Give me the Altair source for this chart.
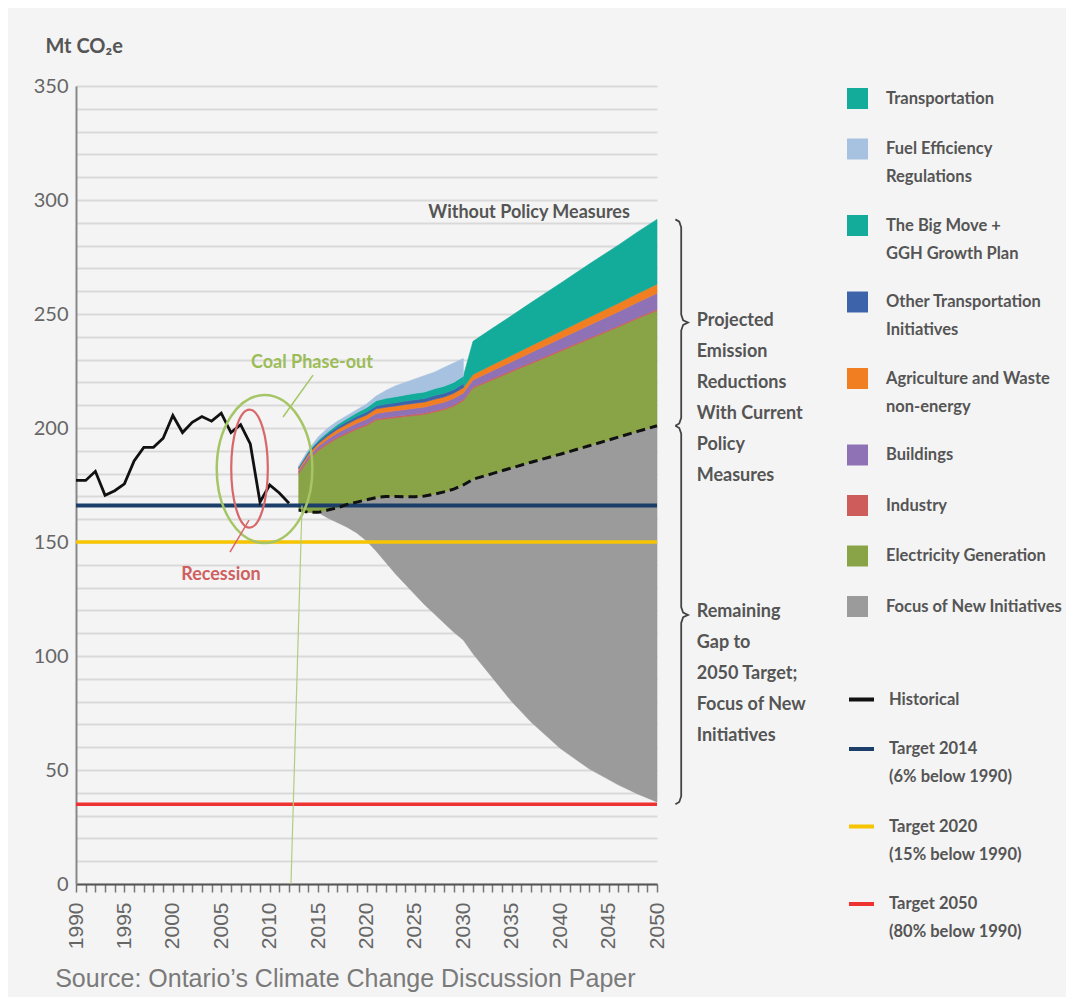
import altair as alt
import pandas as pd

FONT = "Lato, Roboto, sans-serif"
AXIS_FONT = "Liberation Sans, Arial, sans-serif"
TEXT_GRAY = "#555555"

# ---------------- data ----------------
HIST_YEARS = list(range(1990, 2013))
HIST_VALUES = [177, 177, 181, 170.5, 172.5, 175.5, 185.5, 191.5, 191.5, 195.5,
               205.5, 198, 202.5, 205, 203, 206.5, 198, 201.5, 193, 167.5,
               175, 171.5, 167]

TARGET_NAMES = ["Target 2014|(6% below 1990)", "Target 2020|(15% below 1990)",
                "Target 2050|(80% below 1990)"]
TARGET_VALUES = [166, 150, 35]
TARGET_SPAN = [1990, 2050]

PROJ_YEARS = [2013, 2014, 2015, 2016, 2017, 2018, 2019, 2020, 2021, 2022,
              2023, 2024, 2025, 2026, 2027, 2028, 2029, 2030, 2031,
              2033, 2035, 2037, 2040, 2043, 2046, 2048, 2050]
GAP_BOTTOM = [164, 163, 163, 160.5, 158.5, 156.5, 154, 150.5, 146, 141,
              136, 131.5, 127, 122.5, 118.5, 114.5, 110.5, 107, 101,
              90.5, 80, 71, 59.5, 50.5, 43.5, 39.5, 36]
CURRENT_POLICY = [164, 163, 163, 164, 165, 166.5, 167.5, 168.5, 169.5, 170,
                  170, 169.8, 169.8, 170.2, 171, 172, 173.2, 175, 177.5,
                  180, 182.5, 185, 188.5, 192.2, 196, 198.5, 201]
ELECTRICITY = [16, 23, 27, 29, 30.5, 31, 32, 32.5, 34, 34,
               34.5, 35.2, 35.7, 35.8, 36, 36, 36.3, 37, 40,
               41.1, 42.2, 43.2, 45.1, 46.8, 48.3, 49.5, 50.5]
INDUSTRY = [0.6, 0.6, 0.6, 0.6, 0.6, 0.6, 0.6, 0.6, 0.6, 0.6,
            0.6, 0.6, 0.6, 0.6, 0.6, 0.6, 0.6, 0.6, 0.6,
            0.6, 0.6, 0.6, 0.6, 0.6, 0.6, 0.6, 0.6]
BUILDINGS = [0.8, 1, 1.3, 1.5, 1.7, 1.9, 2, 2.2, 2.3, 2.4,
             2.5, 2.5, 2.6, 2.6, 2.7, 2.7, 2.8, 2.8, 3,
             3.4, 3.8, 4.3, 4.9, 5.5, 6.1, 6.5, 7]
AGRICULTURE = [0.8, 1, 1.2, 1.4, 1.6, 1.7, 1.8, 1.9, 2, 2.1,
               2.1, 2.2, 2.2, 2.2, 2.3, 2.3, 2.3, 2.3, 2.4,
               2.6, 2.8, 3, 3.2, 3.5, 3.7, 3.9, 4]
OTHER_TRANSPORT = [0.6, 0.8, 0.9, 1, 1.1, 1.2, 1.2, 1.3, 1.3, 1.4,
                   1.4, 1.5, 1.5, 1.5, 1.6, 1.6, 1.6, 1.7, None,
                   None, None, None, None, None, None, None, None]
BIG_MOVE = [0.2, 0.4, 0.6, 0.8, 1, 1.3, 1.6, 1.9, 2.3, 2.5,
            2.6, 2.7, 2.8, 2.9, 3, 3.1, 3.2, 3.3, None,
            None, None, None, None, None, None, None, None]
FUEL_EFFICIENCY = [0.5, 0.7, 1.4, 1.7, 1.5, 1.3, 1.3, 1.6, 2.0, 3.5,
                   4.8, 5.5, 6.3, 7.2, 7.3, 8.2, 8.5, 7.8, None,
                   None, None, None, None, None, None, None, None]
TRANSPORTATION = [None, None, None, None, None, None, None, None, None, None,
                  None, None, None, None, None, None, None, 5, 14.5,
                  16, 17.4, 18.9, 21.1, 23.3, 25.5, 27, 28.4]

AREA_NAMES = ["Transportation", "Fuel Efficiency|Regulations",
              "The Big Move +|GGH Growth Plan", "Other Transportation|Initiatives",
              "Agriculture and Waste|non-energy", "Buildings", "Industry",
              "Electricity Generation", "Focus of New Initiatives"]
AREA_COLORS = ["#13ab9a", "#a7c2e1", "#13ab9a", "#3d63ab", "#f27e22",
               "#8f71b6", "#cd5c5a", "#89a347", "#9b9b9b"]
LINE_NAMES = ["Historical"] + TARGET_NAMES
LINE_COLORS = ["#111111", "#1b3f68", "#f7c400", "#ee3131"]

BRACE_SPANS = [(291.5, 201), (201, 35)]

# ---------------- tables ----------------
rows = []
for i, yr in enumerate(PROJ_YEARS):
    base = CURRENT_POLICY[i]
    rows.append(dict(series="Focus of New Initiatives", year=yr, lo=GAP_BOTTOM[i], hi=base))
    for name, vals in [("Electricity Generation", ELECTRICITY), ("Industry", INDUSTRY),
                       ("Buildings", BUILDINGS), ("Agriculture and Waste|non-energy", AGRICULTURE)]:
        rows.append(dict(series=name, year=yr, lo=base, hi=base + vals[i]))
        base += vals[i]
    if TRANSPORTATION[i] is not None:
        rows.append(dict(series="Transportation", year=yr, lo=base, hi=base + TRANSPORTATION[i]))
    for name, vals in [("Other Transportation|Initiatives", OTHER_TRANSPORT),
                       ("The Big Move +|GGH Growth Plan", BIG_MOVE),
                       ("Fuel Efficiency|Regulations", FUEL_EFFICIENCY)]:
        if vals[i] is not None:
            rows.append(dict(series=name, year=yr, lo=base, hi=base + vals[i]))
            base += vals[i]
areas = pd.DataFrame(rows)

line_rows = [dict(line="Historical", year=y, value=v) for y, v in zip(HIST_YEARS, HIST_VALUES)]
for name, v in zip(TARGET_NAMES, TARGET_VALUES):
    for y in TARGET_SPAN:
        line_rows.append(dict(line=name, year=y, value=v))
lines = pd.DataFrame(line_rows)

dashed = pd.DataFrame({"year": PROJ_YEARS, "value": CURRENT_POLICY})

# ---------------- scales / axes ----------------
XS = alt.Scale(domain=[1990, 2050], nice=False, zero=False)
YS = alt.Scale(domain=[0, 350], nice=False, zero=True)
XAXIS = alt.Axis(values=list(range(1990, 2051)), format="d", grid=False,
                 labelExpr="datum.value % 5 === 0 ? datum.label : ''",
                 labelOverlap=False, labelAngle=270, labelFont=AXIS_FONT,
                 labelFontSize=21, labelColor="#666666", labelPadding=10,
                 tickSize=8, tickWidth=1.5, tickColor="#777777",
                 domainColor="#555555", domainWidth=2, title=None)
YAXIS = alt.Axis(values=list(range(0, 351, 10)), grid=True, gridColor="#d9d9d9",
                 gridWidth=2, ticks=False,
                 labelExpr="datum.value % 50 === 0 ? datum.label : ''",
                 labelOverlap=False, labelFont=FONT, labelFontSize=20,
                 labelColor="#666666", labelPadding=8,
                 domainColor="#888888", domainWidth=2,
                 title="Mt CO\u2082e", titleAngle=0, titleAlign="left",
                 titleBaseline="alphabetic", titleX=-31, titleY=-34,
                 titleFont=FONT, titleFontSize=20, titleFontWeight="bold",
                 titleColor="#555555")


def xq(field):
    return alt.X(field, type="quantitative", scale=XS, axis=XAXIS)


def yq(field):
    return alt.Y(field, type="quantitative", scale=YS, axis=YAXIS)


FILL = alt.Fill("series:N", scale=alt.Scale(domain=AREA_NAMES, range=AREA_COLORS),
                legend=alt.Legend(title=None, orient="none", legendX=771, legendY=2,
                                  symbolType="square", symbolSize=440,
                                  symbolStrokeWidth=0, labelExpr="split(datum.label, '|')",
                                  labelFont=FONT, labelFontSize=16.5, labelFontWeight="bold",
                                  labelColor=TEXT_GRAY, labelLimit=300, labelOffset=18,
                                  rowPadding=29.5, padding=0))
STROKE = alt.Stroke("line:N", scale=alt.Scale(domain=LINE_NAMES, range=LINE_COLORS),
                    legend=alt.Legend(title=None, orient="none", legendX=771, legendY=599,
                                      symbolType="stroke", symbolSize=625,
                                      symbolStrokeWidth=4, labelExpr="split(datum.label, '|')",
                                      labelFont=FONT, labelFontSize=16.5, labelFontWeight="bold",
                                      labelColor=TEXT_GRAY, labelLimit=300, labelOffset=13,
                                      rowPadding=26.5, padding=0))

layers = []
draw_order = ["Focus of New Initiatives", "Electricity Generation", "Industry", "Buildings",
              "Agriculture and Waste|non-energy", "Transportation",
              "Other Transportation|Initiatives", "The Big Move +|GGH Growth Plan",
              "Fuel Efficiency|Regulations"]
for s in draw_order:
    col = AREA_COLORS[AREA_NAMES.index(s)]
    layers.append(
        alt.Chart(areas[areas.series == s]).mark_area(opacity=1, stroke=col, strokeWidth=0.6)
        .encode(x=xq("year"), y=yq("lo"), y2="hi", fill=FILL)
    )

for name, w in zip(LINE_NAMES[::-1], [3.5, 3.5, 4, 2.8]):
    layers.append(
        alt.Chart(lines[lines.line == name]).mark_line(strokeWidth=w)
        .encode(x=xq("year"), y=yq("value"), stroke=STROKE)
    )

layers.append(
    alt.Chart(dashed).mark_line(color="#111111", strokeWidth=3, strokeDash=[9, 5])
    .encode(x=xq("year"), y=yq("value"))
)

# annotations: ellipses
ell = pd.DataFrame({"year": [2009.47], "value": [182.0]})
layers.append(alt.Chart(ell).mark_point(
    shape="M -0.646 0 A 0.646 1 0 1 1 0.646 0 A 0.646 1 0 1 1 -0.646 0 Z",
    filled=False, size=21904, stroke="#a5c566", strokeWidth=2.5, opacity=1)
    .encode(x=xq("year"), y=yq("value")))
ell2 = pd.DataFrame({"year": [2007.92], "value": [182.2]})
layers.append(alt.Chart(ell2).mark_point(
    shape="M -0.31 0 A 0.31 1 0 1 1 0.31 0 A 0.31 1 0 1 1 -0.31 0 Z",
    filled=False, size=13924, stroke="#d8676a", strokeWidth=2.2, opacity=1)
    .encode(x=xq("year"), y=yq("value")))

# leader lines
leaders = pd.DataFrame({
    "x1": [2014.48, 2007.87, 2013.34], "x2": [2011.38, 2005.9, 2012.2],
    "y1": [223.2, 159.6, 166.0], "y2": [204.8, 145.6, 0],
    "c": ["#a5c566", "#d8676a", "#b3cc80"], "w": [1.5, 1.5, 1.2]})
for i in range(len(leaders)):
    layers.append(alt.Chart(leaders.iloc[[i]]).mark_rule(
        color=leaders.c[i], strokeWidth=float(leaders.w[i]))
        .encode(x=xq("x1"), x2="x2", y=yq("y1"), y2="y2"))

# texts
LABELS = pd.DataFrame({
    "year": [2014.37, 2004.97], "value": [228.5, 135.5],
    "text": ["Coal Phase-out", "Recession"], "c": ["#9cbc58", "#d0605f"]})
for i in range(2):
    layers.append(alt.Chart(LABELS.iloc[[i]]).mark_text(
        font=FONT, fontSize=18, fontWeight="bold", color=LABELS.c[i],
        align="center", baseline="middle")
        .encode(x=xq("year"), y=yq("value"), text="text:N"))

layers.append(alt.Chart(pd.DataFrame({"year": [2047.2], "value": [294.3],
                                      "text": ["Without Policy Measures"]}))
              .mark_text(font=FONT, fontSize=18, fontWeight="bold", color=TEXT_GRAY,
                         align="right", baseline="middle")
              .encode(x=xq("year"), y=yq("value"), text="text:N"))

blocks = pd.DataFrame({
    "year": [2054.1, 2054.1], "value": [247.0, 119.1],
    "text": ["Projected|Emission|Reductions|With Current|Policy|Measures",
             "Remaining|Gap to|2050 Target;|Focus of New|Initiatives"]})
layers.append(alt.Chart(blocks).mark_text(
    font=FONT, fontSize=18, fontWeight="bold", color=TEXT_GRAY, align="left",
    baseline="middle", lineBreak="|", lineHeight=31)
    .encode(x=xq("year"), y=yq("value"), text="text:N"))

# braces built from their spans
brace_rows = []
for b, (top, bot) in enumerate(BRACE_SPANS):
    mid = (top + bot) / 2
    pts = [(2051.9, top), (2052.3, top - 1), (2052.5, top - 3.5), (2052.5, mid + 3.5),
           (2052.7, mid + 1), (2053.2, mid), (2052.7, mid - 1), (2052.5, mid - 3.5),
           (2052.5, bot + 3.5), (2052.3, bot + 1), (2051.9, bot)]
    for k, (x, y) in enumerate(pts):
        brace_rows.append(dict(b=b, k=k, year=x, value=y))
braces = pd.DataFrame(brace_rows)
layers.append(alt.Chart(braces).mark_line(color="#444444", strokeWidth=1.8)
              .encode(x=xq("year"), y=yq("value"), detail="b:N", order="k:Q"))

chart = alt.layer(*layers).properties(
    width=581, height=798,
    padding={"left": 68, "top": 78, "right": 409, "bottom": 113},
    autosize=alt.AutoSizeParams(type="none"),
    title=alt.TitleParams("Source: Ontario\u2019s Climate Change Discussion Paper",
                          orient="bottom", anchor="start", dx=22, offset=18,
                          font=AXIS_FONT, fontSize=25, fontWeight="normal",
                          color="#7a7a7a"),
).configure(
    background="#f4f4f4",
    style={"guide-label": {"lineHeight": 28}},
).configure_view(strokeWidth=0)

chart.save("out.html", embed_options={"renderer": "svg", "actions": False})
